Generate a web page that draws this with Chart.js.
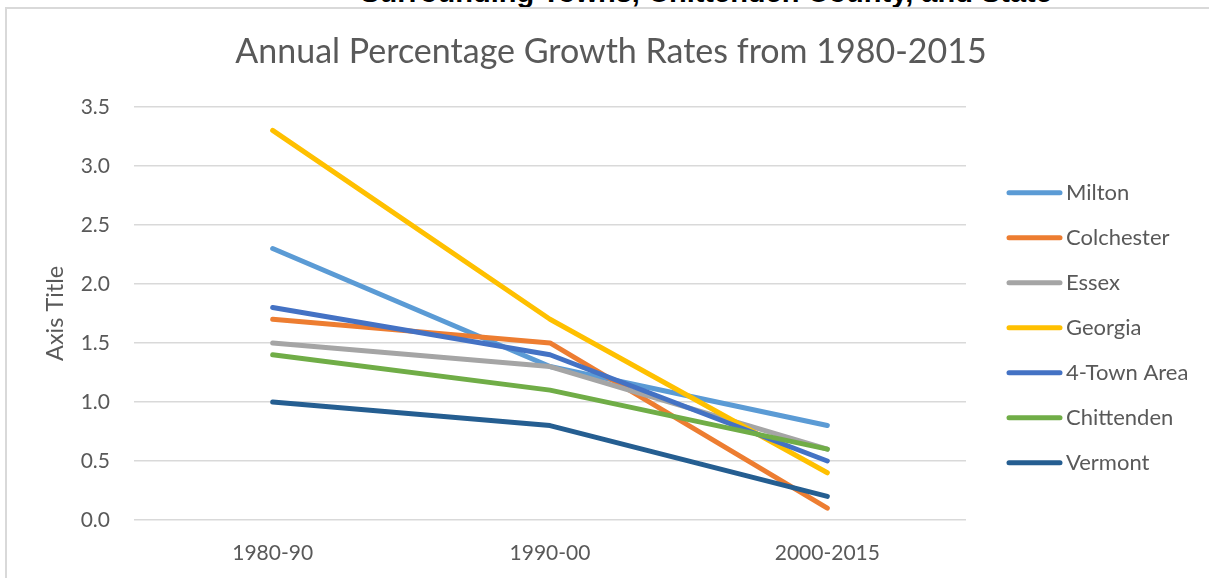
<!DOCTYPE html>
<html>
<head>
<meta charset="utf-8">
<script src="https://cdn.jsdelivr.net/npm/chart.js@4.4.1/dist/chart.umd.min.js"></script>
<style>
  html, body { margin: 0; padding: 0; background: #fff; overflow: hidden; }
  #wrap { position: relative; width: 1209px; height: 578px; overflow: hidden; }
  #frame { position: absolute; left: 5px; top: 7px; width: 1300px; height: 700px;
           border-left: 2px solid #d9d9d9; border-top: 2px solid #d9d9d9; }
  #above { position: absolute; left: 0; top: -22px; width: 1412px; text-align: center;
           font: bold 29px/29px "Liberation Sans", Arial, sans-serif; color: #000; white-space: nowrap; }
  canvas { position: absolute; left: 0; top: 0; }
</style>
</head>
<body>
<div id="wrap">
  <div id="above">Surrounding Towns, Chittenden County, and State</div>
  <div id="frame"></div>
  <canvas id="growthChart" width="1209" height="578"></canvas>
</div>
<script>
const periods = ['1980-90', '1990-00', '2000-2015'];
const seriesNames = ['Milton', 'Colchester', 'Essex', 'Georgia', '4-Town Area', 'Chittenden', 'Vermont'];
const milton = [2.3, 1.3, 0.8];
const colchester = [1.7, 1.5, 0.1];
const essex = [1.5, 1.3, 0.6];
const georgia = [3.3, 1.7, 0.4];
const fourTown = [1.8, 1.4, 0.5];
const chittenden = [1.4, 1.1, 0.6];
const vermont = [1.0, 0.8, 0.2];
const seriesValues = [milton, colchester, essex, georgia, fourTown, chittenden, vermont];
const seriesColors = ['#5B9BD5', '#ED7D31', '#A5A5A5', '#FFC000', '#4472C4', '#70AD47', '#255E91'];

const textColor = '#595959';
const fontName = 'Lato';

// legend drawn beside the plot, in the space kept free by the right axis
const sideLegend = {
  id: 'sideLegend',
  afterDraw(chart) {
    const {ctx, chartArea} = chart;
    const x = chartArea.right + 43;
    ctx.save();
    ctx.font = '22px ' + fontName;
    ctx.textBaseline = 'middle';
    ctx.lineCap = 'round';
    ctx.lineWidth = 5;
    chart.data.datasets.forEach((ds, i) => {
      const y = chartArea.top + 86 + i * 45;
      ctx.strokeStyle = ds.borderColor;
      ctx.beginPath();
      ctx.moveTo(x, y);
      ctx.lineTo(x + 51, y);
      ctx.stroke();
      ctx.fillStyle = textColor;
      ctx.fillText(ds.label, x + 57, y);
    });
    ctx.restore();
  }
};

const datasets = seriesNames.map((name, i) => ({
  label: name,
  data: seriesValues[i],
  borderColor: seriesColors[i],
  backgroundColor: seriesColors[i],
  borderWidth: 5,
  borderCapStyle: 'round',
  borderJoinStyle: 'round',
  pointRadius: 0,
  pointHoverRadius: 0,
  tension: 0,
  fill: false,
  order: seriesNames.length - i
}));

new Chart(document.getElementById('growthChart'), {
  type: 'line',
  data: { labels: periods, datasets: datasets },
  options: {
    responsive: false,
    animation: false,
    layout: { padding: { left: 13, right: 0, top: 0, bottom: 0 } },
    plugins: {
      legend: { display: false },
      tooltip: { enabled: false },
      title: {
        display: true,
        text: 'Annual Percentage Growth Rates from 1980-2015',
        color: textColor,
        font: { family: fontName, size: 34, weight: 'normal' },
        padding: { top: 32, bottom: 34 }
      }
    },
    scales: {
      x: {
        offset: true,
        grid: { display: false },
        border: { display: false },
        ticks: { color: textColor, font: { family: fontName, size: 21 }, padding: 13 },
        afterFit(axis) { axis.height = 58; }
      },
      y: {
        min: 0,
        max: 3.5,
        ticks: {
          stepSize: 0.5,
          color: textColor,
          font: { family: fontName, size: 21 },
          padding: 24,
          callback: (v) => v.toFixed(1)
        },
        grid: { color: '#d9d9d9', lineWidth: 1.5, drawTicks: false },
        border: { display: false },
        title: {
          display: true,
          text: 'Axis Title',
          color: textColor,
          font: { family: fontName, size: 23.5 },
          padding: { top: 28, bottom: 0 }
        },
        afterFit(axis) { axis.width = 121; }
      },
      legendSpace: {
        type: 'linear',
        position: 'right',
        display: true,
        grid: { display: false },
        border: { display: false },
        ticks: { display: false },
        afterFit(axis) { axis.width = 243; }
      }
    }
  },
  plugins: [sideLegend]
});
</script>
</body>
</html>
